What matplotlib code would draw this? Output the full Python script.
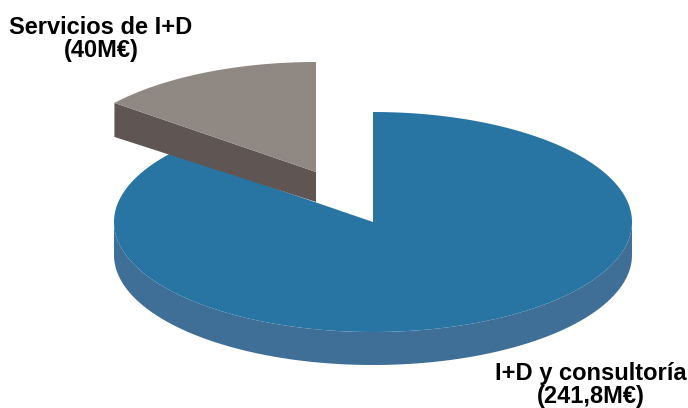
import numpy as np
import matplotlib
matplotlib.use('Agg')
import matplotlib.pyplot as plt

categorias = ['I+D y consultoría', 'Servicios de I+D']
importes = ['241,8M€', '40M€']
valores = [241.8, 40]

colores_cara = ['#2874a3', '#908883']
colores_lado = ['#3f6f96', '#5f5653']

# geometria de la tarta en pixeles
cx, cy = 373, 222
rx, ry = 259, 110
grosor = 33
despl = [(0, 0), (-57, -50)]


def arco(t0, t1, x0, y0):
    # angulos medidos desde arriba en sentido horario
    t = np.linspace(t0, t1, 400)
    return x0 + rx * np.sin(t), y0 - ry * np.cos(t)


fig = plt.figure(figsize=(6.88, 4.08), dpi=100)
ax = fig.add_axes([0, 0, 1, 1])
ax.set_xlim(0, 688)
ax.set_ylim(408, 0)
ax.axis('off')

angulos = 2 * np.pi * np.array(valores) / sum(valores)
inicio = 0
for i in range(2):
    fin = inicio + angulos[i]
    x0 = cx + despl[i][0]
    y0 = cy + despl[i][1]
    xs, ys = arco(inicio, fin, x0, y0)

    if i == 0:
        # lado curvo visible en la mitad de abajo
        xl, yl = arco(np.pi / 2, 3 * np.pi / 2, x0, y0)
        ax.fill(np.r_[xl, xl[::-1]], np.r_[yl, yl[::-1] + grosor],
                color=colores_lado[i], lw=0, zorder=1)
    else:
        # cara del corte de la porcion separada
        ax.fill([xs[0], x0, x0, xs[0]], [ys[0], y0, y0 + grosor - 3, ys[0] + grosor + 1],
                color=colores_lado[i], lw=0, zorder=3)

    ax.fill(np.r_[x0, xs], np.r_[y0, ys], color=colores_cara[i], lw=0, zorder=2 + i * 2)
    inicio = fin

fuente = dict(family='Liberation Sans', fontweight='bold', fontsize=17, color='black',
              ha='center', va='center', linespacing=0.95)
ax.text(591, 385, categorias[0] + '\n(' + importes[0] + ')', **fuente)
ax.text(101, 39, categorias[1] + '\n(' + importes[1] + ')', **fuente)

fig.savefig('out.png', dpi=100)
